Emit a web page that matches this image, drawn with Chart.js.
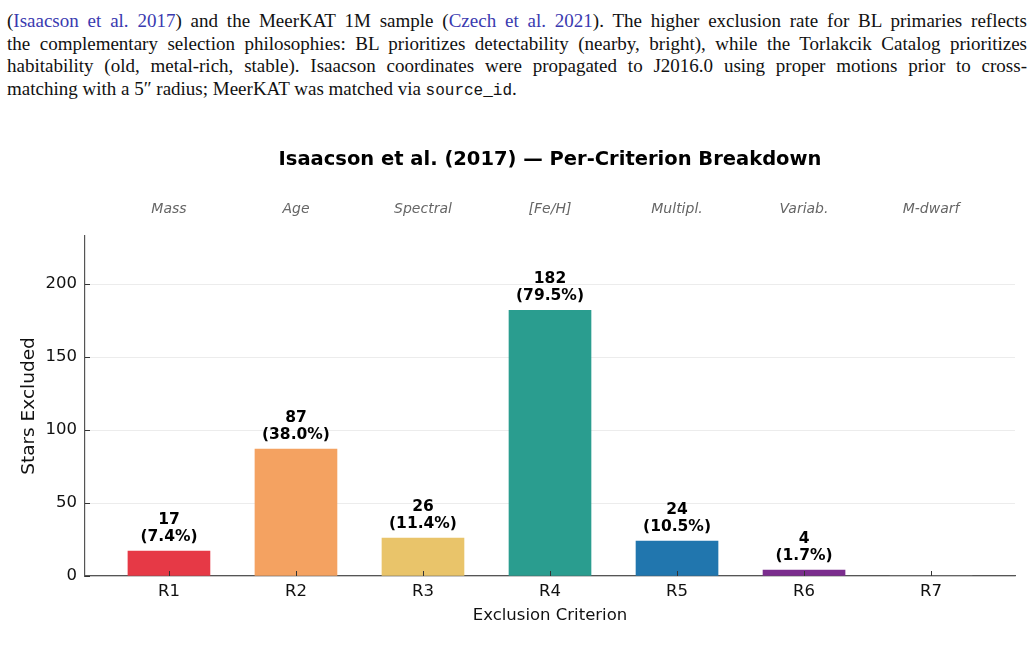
<!DOCTYPE html>
<html>
<head>
<meta charset="utf-8">
<script src="https://cdn.jsdelivr.net/npm/chart.js@4"></script>
<style>
    body { margin: 0; background: #fff; width: 1034px; height: 657px; overflow: hidden; position: relative; }
    .para { position: absolute; left: 7px; top: 10px; width: 1020px; font-family: 'Liberation Serif', serif; font-size: 19px; line-height: 22.5px; color: #111; }
    .para div { text-align: justify; text-align-last: justify; }
    .para div.last { text-align-last: left; }
    .cite { color: #3a3ab0; }
    .tt { font-family: 'Liberation Mono', monospace; font-size: 16px; }
    #chartWrap { position: absolute; left: 0; top: 130px; width: 1034px; height: 500px; }
</style>
</head>
<body>
<div class="para">
    <div>(<span class="cite">Isaacson et al. 2017</span>) and the MeerKAT 1M sample (<span class="cite">Czech et al. 2021</span>). The higher exclusion rate for BL primaries reflects</div>
    <div>the complementary selection philosophies: BL prioritizes detectability (nearby, bright), while the Torlakcik Catalog prioritizes</div>
    <div>habitability (old, metal-rich, stable). Isaacson coordinates were propagated to J2016.0 using proper motions prior to cross-</div>
    <div class="last">matching with a 5&Prime; radius; MeerKAT was matched via <span class="tt">source_id</span>.</div>
</div>
<div id="chartWrap"><canvas id="criterionChart" width="1034" height="500"></canvas></div>
<script>
// data
const categories = ['R1', 'R2', 'R3', 'R4', 'R5', 'R6', 'R7'];
const criteria = ['Mass', 'Age', 'Spectral', '[Fe/H]', 'Multipl.', 'Variab.', 'M-dwarf'];
const counts = [17, 87, 26, 182, 24, 4, 0];
const percents = ['7.4%', '38.0%', '11.4%', '79.5%', '10.5%', '1.7%', '0.0%'];
const barColors = ['#e63946', '#f4a261', '#e9c46a', '#2a9d8f', '#2176ae', '#7b2d8e', '#999999'];
const yTicks = [0, 50, 100, 150, 200];
const chartTitle = 'Isaacson et al. (2017) \u2014 Per-Criterion Breakdown';

const xMin = -0.661;
const xMax = categories.length - 1 + 0.661;

// title centred over the plot area, like matplotlib
const plotTitle = {
    id: 'plotTitle',
    afterDraw(chart) {
        const ctx = chart.ctx;
        const area = chart.chartArea;
        ctx.save();
        ctx.fillStyle = '#000';
        ctx.font = 'bold 19.5px "DejaVu Sans"';
        ctx.textAlign = 'center';
        ctx.textBaseline = 'middle';
        ctx.fillText(chartTitle, (area.left + area.right) / 2, 30);
        ctx.restore();
    }
};

// bold count + percentage above each bar
const barLabels = {
    id: 'barLabels',
    afterDatasetsDraw(chart) {
        const ctx = chart.ctx;
        const meta = chart.getDatasetMeta(0);
        ctx.save();
        ctx.fillStyle = '#000';
        ctx.font = 'bold 15.5px "DejaVu Sans"';
        ctx.textAlign = 'center';
        ctx.textBaseline = 'middle';
        meta.data.forEach((bar, i) => {
            if (!counts[i]) return;
            ctx.fillText(String(counts[i]), bar.x, bar.y - 31);
            ctx.fillText('(' + percents[i] + ')', bar.x, bar.y - 14);
        });
        ctx.restore();
    }
};

// matplotlib style inward tick marks
const innerTicks = {
    id: 'innerTicks',
    afterDatasetsDraw(chart) {
        const ctx = chart.ctx;
        const x = chart.scales.x;
        const y = chart.scales.y;
        ctx.save();
        ctx.strokeStyle = '#333';
        ctx.lineWidth = 1;
        ctx.beginPath();
        yTicks.forEach(v => {
            const py = Math.round(y.getPixelForValue(v)) + 0.5;
            ctx.moveTo(x.left, py);
            ctx.lineTo(x.left + 5, py);
        });
        categories.forEach((c, i) => {
            const px = Math.round(x.getPixelForValue(i)) + 0.5;
            ctx.moveTo(px, y.bottom);
            ctx.lineTo(px, y.bottom - 5);
        });
        ctx.stroke();
        ctx.restore();
    }
};

new Chart(document.getElementById('criterionChart'), {
    type: 'bar',
    data: {
        datasets: [{
            data: categories.map((c, i) => ({ x: i, y: counts[i] })),
            backgroundColor: barColors,
            borderWidth: 0,
            barThickness: 82,
        }]
    },
    options: {
        responsive: false,
        animation: false,
        devicePixelRatio: 1,
        layout: { padding: { left: 0, right: 19, top: 49.8, bottom: 0 } },
        scales: {
            x: {
                type: 'linear',
                position: 'bottom',
                offset: false,
                min: xMin,
                max: xMax,
                afterBuildTicks: s => { s.ticks = categories.map((c, i) => ({ value: i })); },
                afterFit: s => { s.height = 54; },
                ticks: {
                    callback: v => categories[v],
                    font: { family: 'DejaVu Sans', size: 16.5 },
                    color: '#111',
                    padding: 5.5,
                    maxRotation: 0,
                },
                grid: { display: false, drawTicks: false, offset: false },
                border: { display: true, color: '#555', width: 1.2 },
                title: {
                    display: true,
                    text: 'Exclusion Criterion',
                    font: { family: 'DejaVu Sans', size: 16.5 },
                    color: '#111',
                    padding: { top: 0, bottom: 4 },
                },
            },
            x2: {
                type: 'linear',
                position: 'top',
                offset: false,
                min: xMin,
                max: xMax,
                afterBuildTicks: s => { s.ticks = criteria.map((c, i) => ({ value: i })); },
                afterFit: s => { s.height = 56.2; },
                ticks: {
                    callback: v => criteria[v],
                    font: { family: 'DejaVu Sans', size: 14, style: 'italic' },
                    color: '#666',
                    padding: 18,
                    maxRotation: 0,
                },
                grid: { display: false, drawTicks: false, offset: false },
                border: { display: false },
            },
            y: {
                min: 0,
                max: 233,
                afterBuildTicks: s => { s.ticks = yTicks.map(v => ({ value: v })); },
                afterFit: s => { s.width = 85; },
                ticks: {
                    font: { family: 'DejaVu Sans', size: 16.5 },
                    color: '#111',
                    padding: 8,
                },
                grid: { color: '#ececec', lineWidth: 1, drawTicks: false },
                border: { display: true, color: '#555', width: 1.2 },
                title: {
                    display: true,
                    text: 'Stars Excluded',
                    font: { family: 'DejaVu Sans', size: 18.5 },
                    color: '#111',
                    padding: { top: 18, bottom: 0 },
                },
            },
        },
        plugins: {
            legend: { display: false },
            tooltip: { enabled: false },
            title: { display: false },
        },
    },
    plugins: [barLabels, innerTicks, plotTitle],
});
</script>
</body>
</html>
